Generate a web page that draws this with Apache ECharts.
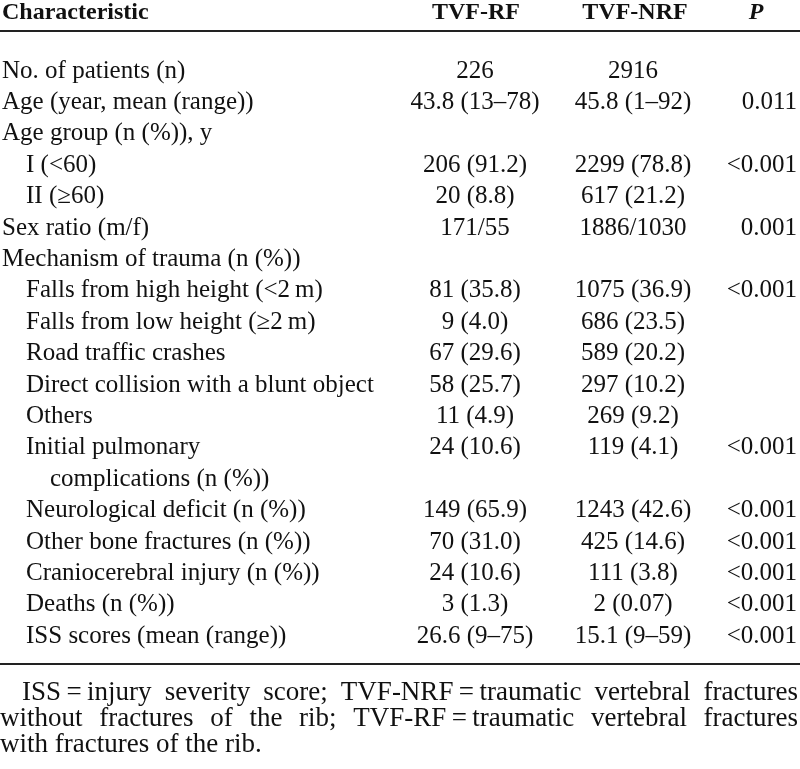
<!DOCTYPE html>
<html><head><meta charset="utf-8">
<script src="https://cdn.jsdelivr.net/npm/echarts@6/dist/echarts.min.js"></script>
<style>html,body{margin:0;padding:0;background:#fff}#c{width:800px;height:769px}</style>
</head><body><div id="c"></div>
<script>
// ---- data ----
const headers = ["Characteristic", "TVF-RF", "TVF-NRF", "P"];
const labels = ["No. of patients (n)", "Age (year, mean (range))", "Age group (n (%)), y", "I (<60)", "II (\u226560)", "Sex ratio (m/f)", "Mechanism of trauma (n (%))", "Falls from high height (<2\u2009m)", "Falls from low height (\u22652\u2009m)", "Road traffic crashes", "Direct collision with a blunt object", "Others", "Initial pulmonary", "complications (n (%))", "Neurological deficit (n (%))", "Other bone fractures (n (%))", "Craniocerebral injury (n (%))", "Deaths (n (%))", "ISS scores (mean (range))"];
const indents = [0,0,0,1,1,0,0,1,1,1,1,1,1,2,1,1,1,1,1];
const rfValues = ["226","43.8 (13\u201378)","","206 (91.2)","20 (8.8)","171/55","","81 (35.8)","9 (4.0)","67 (29.6)","58 (25.7)","11 (4.9)","24 (10.6)","","149 (65.9)","70 (31.0)","24 (10.6)","3 (1.3)","26.6 (9\u201375)"];
const nrfValues = ["2916","45.8 (1\u201392)","","2299 (78.8)","617 (21.2)","1886/1030","","1075 (36.9)","686 (23.5)","589 (20.2)","297 (10.2)","269 (9.2)","119 (4.1)","","1243 (42.6)","425 (14.6)","111 (3.8)","2 (0.07)","15.1 (9\u201359)"];
const pValues = ["","0.011","","<0.001","","0.001","","<0.001","","","","","<0.001","","<0.001","<0.001","<0.001","<0.001","<0.001"];
const noteLines = ["ISS\u2009=\u2009injury severity score; TVF-NRF\u2009=\u2009traumatic vertebral fractures", "without fractures of the rib; TVF-RF\u2009=\u2009traumatic vertebral fractures", "with fractures of the rib."];

// ---- layout ----
const FONT = '"Liberation Serif", "Times New Roman", serif';
const FS = 25, HFS = 24, COLOR = '#111';
const headerY = 13, topLineY = 31, firstRowY = 71, rowStep = 31.4, bottomLineY = 664;
const noteY0 = 693, noteStep = 26, noteFS = 27;
const colLabelX = 2, indentStep = 24, rfX = 475, nrfX = 633, pRight = 797, pHeadX = 756;

const els = [];
function txt(x, y, s, align, opts) {
  els.push({type:'text', x:x, y:y, silent:true, style:Object.assign({
    text:s, fill:COLOR, font: FS + 'px ' + FONT, textAlign:align, textVerticalAlign:'middle'}, opts||{})});
}
txt(colLabelX, headerY, headers[0], 'left', {font:'bold ' + HFS + 'px ' + FONT});
txt(rfX + 1, headerY, headers[1], 'center', {font:'bold ' + HFS + 'px ' + FONT});
txt(nrfX + 2, headerY, headers[2], 'center', {font:'bold ' + HFS + 'px ' + FONT});
txt(pHeadX, headerY, headers[3], 'center', {font:'italic bold ' + HFS + 'px ' + FONT});
els.push({type:'line', silent:true, shape:{x1:0,y1:topLineY,x2:800,y2:topLineY}, style:{stroke:'#222',lineWidth:2}});
labels.forEach((lab, i) => {
  const y = firstRowY + rowStep * i;
  txt(colLabelX + indents[i] * indentStep, y, lab, 'left');
  if (rfValues[i]) txt(rfX, y, rfValues[i], 'center');
  if (nrfValues[i]) txt(nrfX, y, nrfValues[i], 'center');
  if (pValues[i]) txt(pRight, y, pValues[i], 'right');
});
els.push({type:'line', silent:true, shape:{x1:0,y1:bottomLineY,x2:800,y2:bottomLineY}, style:{stroke:'#222',lineWidth:2}});

// notes, justified
const cv = document.createElement('canvas').getContext('2d');
const noteFont = noteFS + 'px ' + FONT;
cv.font = noteFont;
noteLines.forEach((line, li) => {
  const y = noteY0 + noteStep * li;
  const x0 = li === 0 ? 22 : 0;
  if (li === noteLines.length - 1) { txt(x0, y, line, 'left', {font:noteFont}); return; }
  const words = line.split(' ');
  const widths = words.map(w => cv.measureText(w).width);
  const total = widths.reduce((a,b)=>a+b,0);
  const gap = Math.max(3, (798 - x0 - total) / (words.length - 1));
  let x = x0;
  words.forEach((w, k) => { txt(x, y, w, 'left', {font:noteFont}); x += widths[k] + gap; });
});

const chart = echarts.init(document.getElementById('c'), null, {renderer:'canvas'});
chart.setOption({animation:false, backgroundColor:'#fff', graphic:{elements:els}});
</script></body></html>
